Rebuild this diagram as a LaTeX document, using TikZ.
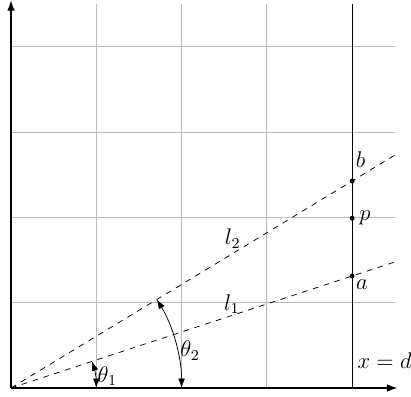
\documentclass[tikz,border=0pt]{standalone}
\usetikzlibrary{arrows.meta}
\begin{document}
\begin{tikzpicture}[x=1.585cm,y=1.585cm,
  every node/.style={font=\fontsize{11.5}{13}\selectfont},
  gridline/.style={gray!55,line width=0.5pt},
  axis/.style={-{Latex[length=5.5pt,width=4pt]},line width=0.6pt},
  ray/.style={dashed},
  anglearc/.style={{Latex[length=5pt,width=3.6pt]}-{Latex[length=5pt,width=3.6pt]}},
  pt/.style={circle,fill,inner sep=0pt,minimum size=2.6pt}]
\useasboundingbox (-0.129,-0.105) rectangle (4.69,4.549);
\draw[gridline,step={(1,1)}] (0,0) grid (4.5,4.5);
\coordinate (O) at (0,0);
\coordinate (X) at (4.53,0);
\coordinate (Y) at (0,4.545);
\draw[axis] (O) -- (X);
\draw[axis] (O) -- (Y);
\coordinate (D0) at (4,0);
\coordinate (D1) at (4,4.5);
\draw (D0) -- (D1);
\node[pt] (a) at (4,1.313) {};
\node[pt] (p) at (4,1.99) {};
\node[pt] (b) at (4,2.427) {};
\coordinate (E1) at (4.5,1.477);
\coordinate (E2) at (4.5,2.730);
\draw[ray] (O) -- (E1);
\draw[ray] (O) -- (E2);
\draw[anglearc] (1,0) arc (0:18.17:1);
\draw[anglearc] (2,0) arc (0:31.25:2);
\node (la) at (4.115,1.21) {$a$};
\node (lp) at (4.15,1.99) {$p$};
\node (lb) at (4.10,2.68) {$b$};
\node (ld) at (4.38,0.317) {$x=d$};
\node (l1) at (2.59,0.98) {$l_1$};
\node (l2) at (2.60,1.75) {$l_2$};
\node (t1) at (1.13,0.14) {$\theta_1$};
\node (t2) at (2.10,0.44) {$\theta_2$};
\end{tikzpicture}
\end{document}
